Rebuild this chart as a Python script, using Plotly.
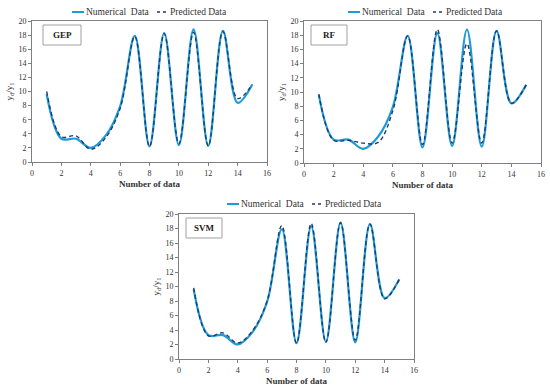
import plotly.graph_objects as go

x_vals = list(range(1, 16))
numerical = [9.6, 3.3, 3.3, 2.0, 3.7, 7.9, 17.9, 2.2, 18.3, 2.4, 18.8, 2.3, 18.6, 8.4, 11.0]
pred_gep = [10.0, 3.6, 3.7, 1.8, 3.4, 7.6, 17.8, 2.2, 18.2, 2.6, 18.4, 2.3, 18.5, 9.0, 11.0]
pred_rf = [9.7, 3.2, 3.2, 2.8, 2.9, 7.4, 17.9, 2.6, 18.8, 2.8, 16.8, 2.8, 18.6, 8.4, 11.0]
pred_svm = [9.8, 3.2, 3.6, 2.2, 3.9, 8.0, 18.4, 2.2, 18.7, 2.3, 18.8, 2.6, 18.6, 8.3, 11.0]
panel_labels = ["GEP", "RF", "SVM"]
series_names = ["Numerical  Data", "Predicted Data"]
x_ticks = list(range(0, 17, 2))
y_ticks = list(range(0, 21, 2))

W, H = 550, 389
NUM_COLOR = "#1E9BD7"
PRED_COLOR = "#1F3A6E"
FONT = "Liberation Serif, Times New Roman, serif"

# plot area pixel boxes (left, right, top, bottom), label box (x0, x1), legend start x, legend y
panels = [
    dict(box=(32, 267, 21, 162), lab=(43, 81), leg=72, legy=12),
    dict(box=(304, 541, 21, 163), lab=(311, 347), leg=348, legy=12),
    dict(box=(179, 414, 214, 359), lab=(186, 222), leg=227, legy=204),
]
preds = [pred_gep, pred_rf, pred_svm]

fig = go.Figure()
layout = dict(width=W, height=H, margin=dict(l=0, r=0, t=0, b=0, autoexpand=False),
              paper_bgcolor="white", plot_bgcolor="white", showlegend=False,
              font=dict(family=FONT, size=8, color="#333"))

def px(xp):
    return xp / W

def py(yp):
    return 1 - yp / H

for i, (pn, pred, lab) in enumerate(zip(panels, preds, panel_labels)):
    l, r, t, b = pn["box"]
    sfx = "" if i == 0 else str(i + 1)
    xa, ya = "x" + sfx, "y" + sfx
    fig.add_trace(go.Scatter(x=x_vals, y=numerical, mode="lines", name=series_names[0],
                             line=dict(color=NUM_COLOR, width=2.2, shape="spline", smoothing=1.0),
                             xaxis=xa, yaxis=ya))
    fig.add_trace(go.Scatter(x=x_vals, y=pred, mode="lines", name=series_names[1],
                             line=dict(color=PRED_COLOR, width=1.4, dash="4px,3px", shape="spline", smoothing=1.0),
                             xaxis=xa, yaxis=ya))
    axcommon = dict(showline=True, linecolor="#7f7f7f", linewidth=1, mirror=True,
                    ticks="outside", ticklen=3, tickcolor="#7f7f7f", showgrid=False, zeroline=False,
                    tickfont=dict(family=FONT, size=8, color="#333"))
    layout["xaxis" + sfx] = dict(axcommon, domain=[px(l), px(r)], range=[0, 16], tickvals=x_ticks,
                                 anchor=ya,
                                 title=dict(text="<b>Number of data</b>", standoff=4,
                                            font=dict(family=FONT, size=9, color="#333")))
    layout["yaxis" + sfx] = dict(axcommon, domain=[py(b), py(t)], range=[0, 20], tickvals=y_ticks,
                                 anchor=xa,
                                 title=dict(text="y<sub>d</sub>/y<sub>1</sub>", standoff=4,
                                            font=dict(family=FONT, size=9, color="#333")))
    # manual legend
    lx, ly = pn["leg"], pn["legy"]
    fig.add_shape(type="line", xref="paper", yref="paper", x0=px(lx), x1=px(lx + 12), y0=py(ly), y1=py(ly),
                  line=dict(color=NUM_COLOR, width=2))
    fig.add_annotation(xref="paper", yref="paper", x=px(lx + 12), y=py(ly), text=series_names[0],
                       showarrow=False, xanchor="left", yanchor="middle",
                       font=dict(family=FONT, size=9.5, color="#333"))
    fig.add_shape(type="line", xref="paper", yref="paper", x0=px(lx + 85), x1=px(lx + 94), y0=py(ly), y1=py(ly),
                  line=dict(color=PRED_COLOR, width=1.4, dash="3px,3px"))
    fig.add_annotation(xref="paper", yref="paper", x=px(lx + 96), y=py(ly), text=series_names[1],
                       showarrow=False, xanchor="left", yanchor="middle",
                       font=dict(family=FONT, size=9.5, color="#333"))
    # label box
    bx0, bx1 = pn["lab"]
    fig.add_shape(type="rect", xref="paper", yref="paper",
                  x0=px(bx0), x1=px(bx1), y0=py(t + 24), y1=py(t + 4),
                  line=dict(color="#a0a0a0", width=1), fillcolor="white")
    fig.add_annotation(xref="paper", yref="paper", x=px((bx0 + bx1) / 2), y=py(t + 14),
                       text="<b>" + lab + "</b>", showarrow=False, xanchor="center", yanchor="middle",
                       font=dict(family=FONT, size=9, color="#222"))

fig.update_layout(**layout)
fig.write_html("out.html", config={"displayModeBar": False},
               post_script="document.body.style.margin='0';")
